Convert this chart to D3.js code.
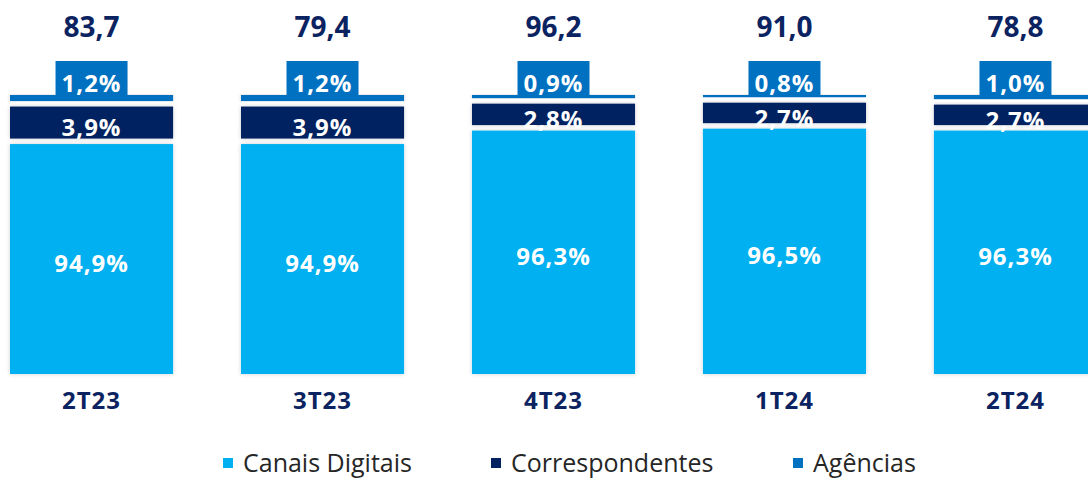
<!DOCTYPE html>
<html>
<head>
<meta charset="utf-8">
<script src="https://cdn.jsdelivr.net/npm/d3@7"></script>
<style>
  body { margin: 0; background: #fff; }
  svg { display: block; font-family: "Open Sans", "Noto Sans", sans-serif; }
</style>
</head>
<body>
<div id="chart"></div>
<script>
// data
var categories = ["2T23", "3T23", "4T23", "1T24", "2T24"];
var totals = ["83,7", "79,4", "96,2", "91,0", "78,8"];
var canais = [94.9, 94.9, 96.3, 96.5, 96.3];
var correspondentes = [3.9, 3.9, 2.8, 2.7, 2.7];
var agencias = [1.2, 1.2, 0.9, 0.8, 1.0];
var seriesNames = ["Canais Digitais", "Correspondentes", "Agências"];

var colors = { canais: "#00B0F0", corr: "#002060", ag: "#0070C0" };
var navy = "#0B2361";

var svgWidth = 1088;
var svgHeight = 478;

var svg = d3.select("#chart").append("svg")
    .attr("width", svgWidth)
    .attr("height", svgHeight);

// soft shadow around segments
var defs = svg.append("defs");
var f = defs.append("filter").attr("id", "shadow")
    .attr("x", "-10%").attr("y", "-10%").attr("width", "120%").attr("height", "120%");
f.append("feDropShadow").attr("dx", 0).attr("dy", 0)
    .attr("stdDeviation", 2).attr("flood-color", "#000").attr("flood-opacity", 0.18);

var rows = categories.map(function(c, i) {
    return { cat: c, total: totals[i], canais: canais[i], corr: correspondentes[i], ag: agencias[i] };
});

// scales
var xScale = d3.scaleBand()
    .domain(categories)
    .range([10, 1097])
    .paddingInner(0.294)
    .paddingOuter(0);

var yScale = d3.scaleLinear()
    .domain([71, 100])
    .range([374, 95]);

var gap = 5.5;
var fmt = function(v) { return v.toFixed(1).replace(".", ",") + "%"; };

var groups = svg.selectAll(".bar")
    .data(rows)
    .enter()
    .append("g")
    .attr("class", "bar")
    .attr("transform", d => `translate(${xScale(d.cat)},0)`);

var bw = xScale.bandwidth();

// Canais Digitais
groups.append("rect")
    .attr("x", 0)
    .attr("y", d => yScale(d.canais))
    .attr("width", bw)
    .attr("height", d => yScale(71) - yScale(d.canais))
    .attr("fill", colors.canais)
    .attr("filter", "url(#shadow)");

// Correspondentes
groups.append("rect")
    .attr("x", 0)
    .attr("y", d => yScale(d.canais + d.corr))
    .attr("width", bw)
    .attr("height", d => yScale(d.canais) - yScale(d.canais + d.corr) - gap)
    .attr("fill", colors.corr)
    .attr("filter", "url(#shadow)");

// Agencias strip
groups.append("rect")
    .attr("x", 0)
    .attr("y", d => yScale(d.canais + d.corr + d.ag))
    .attr("width", bw)
    .attr("height", d => yScale(d.canais + d.corr) - yScale(d.canais + d.corr + d.ag) - gap)
    .attr("fill", colors.ag)
    .attr("filter", "url(#shadow)");

// Agencias label box
var boxW = 72, boxH = 34;
groups.append("rect")
    .attr("x", bw / 2 - boxW / 2)
    .attr("y", d => yScale(d.canais + d.corr + d.ag) - boxH)
    .attr("width", boxW)
    .attr("height", boxH + 2)
    .attr("fill", colors.ag);

function whiteLabel(sel) {
    sel.attr("x", bw / 2)
        .attr("text-anchor", "middle")
        .attr("fill", "#fff")
        .attr("font-weight", "bold")
        .attr("font-size", "24px")
        .attr("letter-spacing", "1px");
}

groups.append("text")
    .call(whiteLabel)
    .attr("y", d => yScale(d.canais + d.corr + d.ag) - 3)
    .text(d => fmt(d.ag));

// Correspondentes label
groups.append("text")
    .call(whiteLabel)
    .attr("y", d => (yScale(d.canais + d.corr) + yScale(d.canais)) / 2 + 11)
    .text(d => fmt(d.corr));

// Canais label
groups.append("text")
    .call(whiteLabel)
    .attr("y", d => (yScale(d.canais) + yScale(71)) / 2 + 13)
    .text(d => fmt(d.canais));

// totals
groups.append("text")
    .attr("x", bw / 2)
    .attr("y", 37)
    .attr("text-anchor", "middle")
    .attr("fill", navy)
    .attr("font-weight", "bold")
    .attr("font-size", "28px")
    .text(d => d.total);

// category labels
groups.append("text")
    .attr("x", bw / 2)
    .attr("y", 409)
    .attr("text-anchor", "middle")
    .attr("fill", navy)
    .attr("font-weight", "bold")
    .attr("font-size", "24px")
    .attr("letter-spacing", "1px")
    .text(d => d.cat);

// legend
var legendX = [223, 491, 793];
var legendColors = [colors.canais, colors.corr, colors.ag];
var legend = svg.selectAll(".legend")
    .data(seriesNames)
    .enter()
    .append("g")
    .attr("class", "legend")
    .attr("transform", (d, i) => `translate(${legendX[i]}, 0)`);

legend.append("rect")
    .attr("x", 0)
    .attr("y", 458)
    .attr("width", 10)
    .attr("height", 10)
    .attr("fill", (d, i) => legendColors[i]);

legend.append("text")
    .attr("x", 20)
    .attr("y", 472)
    .attr("fill", "#262626")
    .attr("font-size", "25px")
    .text(d => d);
</script>
</body>
</html>
